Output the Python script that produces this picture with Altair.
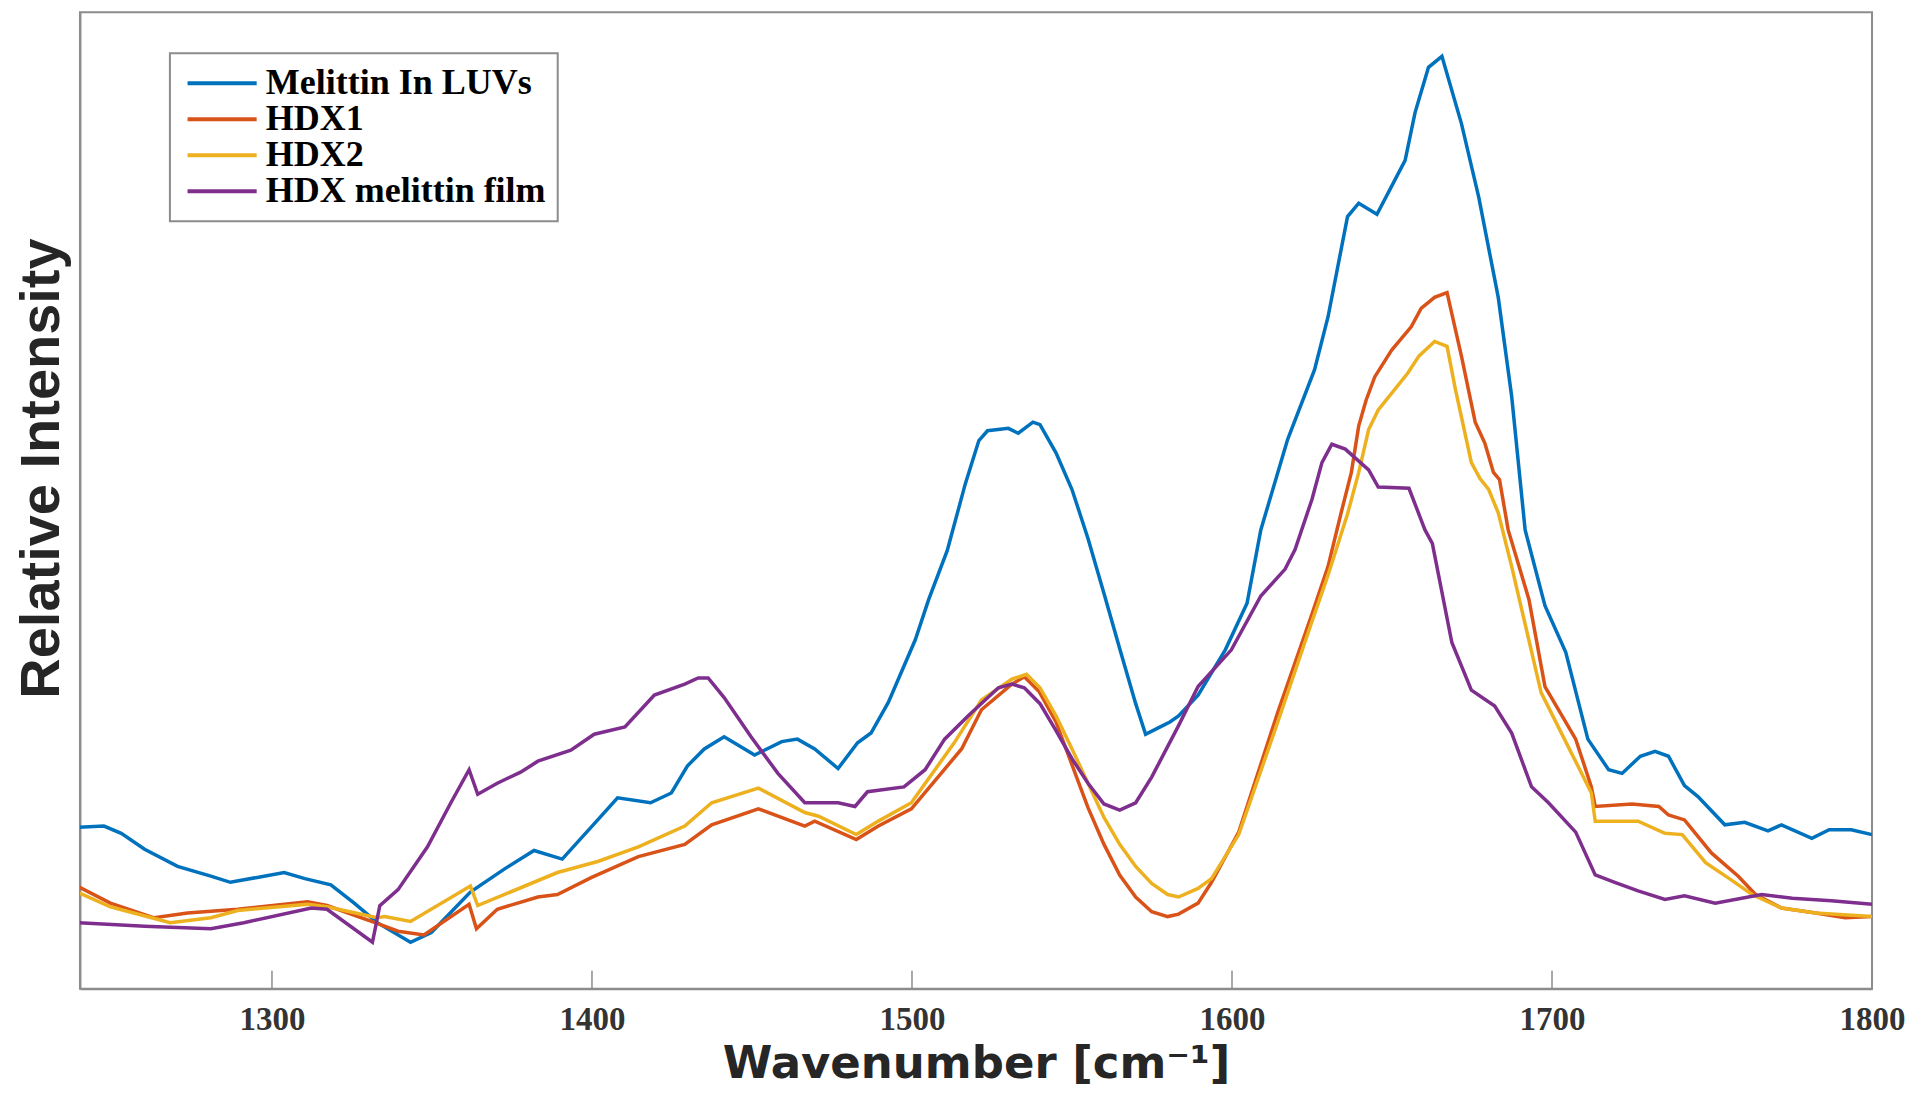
import altair as alt
import pandas as pd

series_names = ["Melittin In LUVs", "HDX1", "HDX2", "HDX melittin film"]
series_colors = ["#0072BD", "#D95319", "#EDB120", "#7E2F8E"]

# Melittin In LUVs
luv_wn = [1239.1, 1247.5, 1252.9, 1260.2, 1270.5, 1280.9, 1287.0, 1295.4, 1303.8, 1310.3,
          1318.4, 1325.7, 1332.9, 1343.3, 1349.8, 1362.0, 1372.7, 1381.9, 1390.7, 1401.8,
          1408.0, 1418.3, 1424.8, 1429.8, 1435.1, 1441.3, 1450.8, 1459.3, 1464.2, 1469.6,
          1476.9, 1483.0, 1487.2, 1492.6, 1501.0, 1505.2, 1511.0, 1516.7, 1520.9, 1523.6,
          1530.1, 1533.2, 1537.8, 1540.0, 1545.0, 1550.0, 1555.0, 1560.0, 1564.9, 1569.9,
          1573.0, 1576.8, 1580.6, 1583.3, 1589.4, 1597.9, 1604.7, 1609.0, 1617.4, 1625.8,
          1630.0, 1636.1, 1639.6, 1645.3, 1654.1, 1657.2, 1661.4, 1665.6, 1671.7, 1677.1,
          1683.2, 1687.4, 1691.6, 1697.8, 1704.3, 1711.2, 1717.7, 1721.9, 1727.6, 1732.2,
          1736.4, 1741.4, 1745.6, 1754.0, 1760.2, 1767.5, 1771.7, 1781.2, 1786.6, 1793.5,
          1800.0]
luv_int = [132, 133, 127, 114, 100, 92, 87, 91, 95, 90,
           85, 70, 54, 38, 46, 79, 98, 113, 106, 138,
           156, 152, 160, 182, 196, 206, 191, 202, 204, 196,
           180, 201, 209, 234, 285, 318, 358, 413, 448, 456,
           458, 454, 463, 461, 438, 408, 368, 323, 278, 233,
           208, 213, 218, 223, 240, 277, 315, 375, 449, 506,
           549, 631, 642, 633, 677, 716, 753, 762, 707, 647,
           565, 484, 375, 313, 275, 204, 179, 176, 190, 194,
           190, 166, 157, 134, 136, 129, 134, 123, 130, 130,
           126]

# HDX1
hdx1_wn = [1239.1, 1249.5, 1263.2, 1273.6, 1289.3, 1311.1, 1317.2, 1332.2, 1339.4, 1347.5,
           1361.6, 1363.9, 1370.4, 1383.1, 1389.2, 1399.9, 1414.5, 1429.0, 1437.4, 1452.0,
           1466.5, 1469.6, 1482.6, 1489.5, 1499.8, 1515.5, 1521.7, 1531.2, 1535.1, 1539.7,
           1545.0, 1550.0, 1555.0, 1560.0, 1564.9, 1569.9, 1574.9, 1579.9, 1583.3, 1589.4,
           1593.6, 1602.1, 1614.3, 1624.7, 1630.0, 1634.2, 1637.3, 1639.6, 1641.9, 1644.6,
           1649.9, 1656.0, 1659.1, 1663.3, 1667.2, 1671.7, 1676.0, 1679.0, 1681.7, 1683.6,
           1686.3, 1692.8, 1697.8, 1707.4, 1712.3, 1713.5, 1725.0, 1733.4, 1736.4, 1741.4,
           1749.8, 1758.2, 1763.6, 1771.7, 1782.4, 1791.6, 1800.0]
hdx1_int = [84, 70, 58, 62, 65, 71, 68, 54, 47, 44,
            69, 49, 65, 75, 77, 91, 108, 118, 134, 147,
            133, 137, 122, 133, 147, 196, 228, 249, 255, 243,
            218, 183, 148, 118, 93, 75, 63, 59, 61, 70,
            87, 128, 226, 304, 345, 390, 422, 460, 481, 500,
            522, 541, 556, 565, 569, 517, 463, 446, 422, 416,
            375, 318, 247, 204, 165, 149, 151, 149, 142, 138,
            111, 92, 77, 66, 62, 58, 59]

# HDX2
hdx2_wn = [1239.1, 1249.5, 1268.2, 1280.9, 1289.3, 1311.1, 1317.2, 1332.9, 1335.2, 1343.3,
           1362.0, 1364.3, 1389.2, 1401.8, 1414.5, 1429.0, 1437.4, 1452.0, 1466.5, 1470.8,
           1482.6, 1489.5, 1499.8, 1513.2, 1521.7, 1531.2, 1535.8, 1540.0, 1545.0, 1550.0,
           1555.0, 1560.0, 1564.9, 1569.9, 1574.9, 1579.9, 1583.3, 1589.4, 1593.6, 1602.1,
           1614.3, 1624.7, 1630.0, 1636.1, 1639.6, 1642.7, 1645.7, 1654.9, 1658.4, 1663.3,
           1667.2, 1669.8, 1674.8, 1677.5, 1680.2, 1683.2, 1687.4, 1696.6, 1708.1, 1712.3,
           1713.5, 1726.9, 1735.3, 1740.7, 1748.0, 1756.0, 1762.5, 1771.7, 1782.4, 1800.0]
hdx2_int = [79, 67, 54, 58, 64, 69, 67, 58, 59, 55,
            84, 68, 95, 104, 116, 133, 152, 164, 144, 141,
            126, 137, 152, 201, 236, 253, 257, 246, 223, 196,
            168, 140, 118, 100, 86, 77, 75, 82, 90, 126,
            218, 298, 338, 388, 422, 457, 473, 503, 517, 529,
            525, 490, 430, 417, 408, 389, 345, 242, 182, 160,
            137, 137, 127, 126, 103, 89, 77, 66, 62, 59]

# HDX melittin film
film_wn = [1239.1, 1260.2, 1280.9, 1291.2, 1312.3, 1317.2, 1331.4, 1333.7, 1339.4, 1348.6,
           1355.9, 1361.6, 1364.3, 1370.4, 1377.7, 1383.1, 1393.4, 1400.7, 1410.3, 1419.5,
           1429.0, 1433.2, 1436.3, 1441.3, 1449.7, 1458.1, 1466.5, 1476.9, 1482.2, 1486.1,
           1497.5, 1504.1, 1510.2, 1517.5, 1527.0, 1531.2, 1535.1, 1540.0, 1545.0, 1550.0,
           1555.0, 1560.0, 1564.9, 1569.9, 1574.9, 1583.3, 1589.4, 1599.8, 1609.0, 1616.6,
           1619.7, 1625.0, 1628.1, 1631.2, 1635.4, 1642.7, 1645.7, 1655.3, 1660.3, 1662.6,
           1668.7, 1674.8, 1682.1, 1687.4, 1693.6, 1698.9, 1707.4, 1713.5, 1719.6, 1726.9,
           1735.3, 1741.4, 1751.0, 1765.5, 1775.1, 1787.3, 1800.0]
film_int = [54, 51, 49, 54, 66, 65, 38, 68, 81, 116,
            152, 179, 159, 168, 177, 186, 195, 208, 214, 240,
            249, 254, 254, 238, 206, 176, 152, 152, 149, 161,
            165, 179, 204, 223, 246, 249, 246, 233, 211, 188,
            168, 151, 146, 152, 173, 215, 247, 277, 321, 343,
            359, 400, 430, 445, 441, 424, 410, 409, 375, 364,
            283, 244, 231, 209, 165, 152, 128, 93, 87, 80,
            73, 76, 70, 77, 74, 72, 69]

tick_values = [1300, 1400, 1500, 1600, 1700, 1800]

rows = []
for name, wn, iv in zip(series_names,
                        [luv_wn, hdx1_wn, hdx2_wn, film_wn],
                        [luv_int, hdx1_int, hdx2_int, film_int]):
    for w, v in zip(wn, iv):
        rows.append({"series": name, "wavenumber": w, "intensity": v})
df = pd.DataFrame(rows)
ticks_df = pd.DataFrame({"wavenumber": tick_values})

W, H = 1793, 977
frame = "#8c8c8c"
x_scale = alt.Scale(domain=[1240, 1800], nice=False, zero=False)

x_enc = alt.X(
    "wavenumber:Q",
    scale=x_scale,
    axis=alt.Axis(
        values=tick_values, format="d", title="Wavenumber [cm⁻¹]", grid=False,
        tickSize=0, labelPadding=15, labelFlush=False,
        labelFont="Liberation Serif", labelFontWeight="bold",
        labelFontSize=33, labelColor="#333333", titleFont="DejaVu Sans",
        titleFontSize=45, titleFontWeight="bold", titleColor="#262626",
        titleY=53, titleBaseline="top", domainColor=frame, domainWidth=2,
    ),
)

lines = alt.Chart(df).mark_line(strokeWidth=3.5, clip=True).encode(
    x=x_enc,
    y=alt.Y(
        "intensity:Q",
        scale=alt.Scale(domain=[0, 798], nice=False, zero=False),
        axis=alt.Axis(
            title="Relative Intensity", labels=False, ticks=False, grid=False,
            titleFont="Liberation Sans", titleFontSize=56, titleFontWeight="bold",
            titleColor="#262626", titleX=-21, titleY=456, titleAngle=270,
            titleBaseline="alphabetic", titleAlign="center",
            domainColor=frame, domainWidth=2,
        ),
    ),
    color=alt.Color(
        "series:N",
        scale=alt.Scale(domain=series_names, range=series_colors),
        legend=alt.Legend(
            title=None, orient="none", legendX=90, legendY=41,
            symbolType="M-1,0H4.6", symbolSize=610, symbolStrokeWidth=4,
            labelFont="Liberation Serif", labelFontWeight="bold", labelFontSize=36,
            labelColor="black", rowPadding=0, labelOffset=48, padding=12,
            strokeColor=frame, fillColor="white", labelLimit=0,
        ),
    ),
)

ticks = alt.Chart(ticks_df).mark_rule(color=frame, strokeWidth=1.5).encode(
    x=alt.X("wavenumber:Q", scale=x_scale),
    y=alt.value(H - 18),
    y2=alt.value(H),
)

chart = (
    alt.layer(lines, ticks)
    .properties(
        width=W, height=H,
        padding={"left": 72, "top": 4, "right": 40, "bottom": 105},
        autosize=alt.AutoSizeParams(type="none"),
        background="white",
    )
    .configure_view(stroke=frame, strokeWidth=2)
    .configure_legend(strokeWidth=2)
)

chart.save("out.html", embed_options={"renderer": "svg", "actions": False})
